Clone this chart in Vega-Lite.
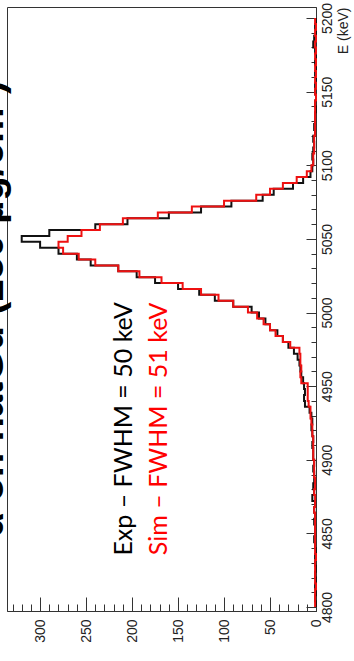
{
  "$schema": "https://vega.github.io/schema/vega-lite/v6.json",
  "width": 309,
  "height": 604,
  "autosize": {"type": "none"},
  "padding": {"left": 7, "top": 7, "right": 38, "bottom": 50},
  "background": "white",
  "title": {"text": "α on natGd (250 µg/cm²)", "orient": "left", "anchor": "middle", "font": "Liberation Sans", "fontSize": 40, "fontWeight": "bold", "color": "black", "offset": -4},
  "config": {
    "view": {"stroke": "#333333", "strokeWidth": 1},
    "axis": {"grid": false, "domainColor": "#333333", "tickColor": "#333333", "labelColor": "#222222", "labelFont": "Liberation Sans", "labelFontSize": 14, "titleFont": "Liberation Sans", "titleFontSize": 14, "titleFontWeight": "normal", "titleColor": "#222222"}
  },
  "resolve": {"axis": {"x": "independent", "y": "independent"}},
  "datasets": {
    "spectra": [
      {"series":"Exp","E":4800,"counts":0},{"series":"Exp","E":4804,"counts":1},{"series":"Exp","E":4808,"counts":0},{"series":"Exp","E":4812,"counts":1},{"series":"Exp","E":4816,"counts":0},{"series":"Exp","E":4820,"counts":1},{"series":"Exp","E":4824,"counts":0},{"series":"Exp","E":4828,"counts":1},{"series":"Exp","E":4832,"counts":1},{"series":"Exp","E":4836,"counts":0},
      {"series":"Exp","E":4840,"counts":1},{"series":"Exp","E":4844,"counts":2},{"series":"Exp","E":4848,"counts":1},{"series":"Exp","E":4852,"counts":1},{"series":"Exp","E":4856,"counts":2},{"series":"Exp","E":4860,"counts":1},{"series":"Exp","E":4864,"counts":2},{"series":"Exp","E":4868,"counts":1},{"series":"Exp","E":4872,"counts":4},{"series":"Exp","E":4876,"counts":2},
      {"series":"Exp","E":4880,"counts":3},{"series":"Exp","E":4884,"counts":2},{"series":"Exp","E":4888,"counts":2},{"series":"Exp","E":4892,"counts":3},{"series":"Exp","E":4896,"counts":2},{"series":"Exp","E":4900,"counts":3},{"series":"Exp","E":4904,"counts":3},{"series":"Exp","E":4908,"counts":4},{"series":"Exp","E":4912,"counts":3},{"series":"Exp","E":4916,"counts":4},
      {"series":"Exp","E":4920,"counts":5},{"series":"Exp","E":4924,"counts":4},{"series":"Exp","E":4928,"counts":5},{"series":"Exp","E":4932,"counts":7},{"series":"Exp","E":4936,"counts":12},{"series":"Exp","E":4940,"counts":13},{"series":"Exp","E":4944,"counts":12},{"series":"Exp","E":4948,"counts":13},{"series":"Exp","E":4952,"counts":14},{"series":"Exp","E":4956,"counts":16},
      {"series":"Exp","E":4960,"counts":17},{"series":"Exp","E":4964,"counts":18},{"series":"Exp","E":4968,"counts":20},{"series":"Exp","E":4972,"counts":24},{"series":"Exp","E":4976,"counts":30},{"series":"Exp","E":4980,"counts":36},{"series":"Exp","E":4984,"counts":42},{"series":"Exp","E":4988,"counts":50},{"series":"Exp","E":4992,"counts":55},{"series":"Exp","E":4996,"counts":62},
      {"series":"Exp","E":5000,"counts":70},{"series":"Exp","E":5004,"counts":90},{"series":"Exp","E":5008,"counts":110},{"series":"Exp","E":5012,"counts":127},{"series":"Exp","E":5016,"counts":150},{"series":"Exp","E":5020,"counts":175},{"series":"Exp","E":5024,"counts":195},{"series":"Exp","E":5028,"counts":215},{"series":"Exp","E":5032,"counts":245},{"series":"Exp","E":5036,"counts":260},
      {"series":"Exp","E":5040,"counts":280},{"series":"Exp","E":5044,"counts":300},{"series":"Exp","E":5048,"counts":320},{"series":"Exp","E":5052,"counts":290},{"series":"Exp","E":5056,"counts":240},{"series":"Exp","E":5060,"counts":205},{"series":"Exp","E":5064,"counts":160},{"series":"Exp","E":5068,"counts":125},{"series":"Exp","E":5072,"counts":92},{"series":"Exp","E":5076,"counts":58},
      {"series":"Exp","E":5080,"counts":46},{"series":"Exp","E":5084,"counts":25},{"series":"Exp","E":5088,"counts":14},{"series":"Exp","E":5092,"counts":6},{"series":"Exp","E":5096,"counts":4},{"series":"Exp","E":5100,"counts":3},{"series":"Exp","E":5104,"counts":4},{"series":"Exp","E":5108,"counts":3},{"series":"Exp","E":5112,"counts":2},{"series":"Exp","E":5116,"counts":3},
      {"series":"Exp","E":5120,"counts":1},{"series":"Exp","E":5124,"counts":2},{"series":"Exp","E":5128,"counts":1},{"series":"Exp","E":5132,"counts":1},{"series":"Exp","E":5136,"counts":0},{"series":"Exp","E":5140,"counts":1},{"series":"Exp","E":5144,"counts":0},{"series":"Exp","E":5148,"counts":1},{"series":"Exp","E":5152,"counts":1},{"series":"Exp","E":5156,"counts":0},
      {"series":"Exp","E":5160,"counts":1},{"series":"Exp","E":5164,"counts":0},{"series":"Exp","E":5168,"counts":1},{"series":"Exp","E":5172,"counts":0},{"series":"Exp","E":5176,"counts":1},{"series":"Exp","E":5180,"counts":3},{"series":"Exp","E":5184,"counts":2},{"series":"Exp","E":5188,"counts":0},{"series":"Exp","E":5192,"counts":1},{"series":"Exp","E":5196,"counts":0},
      {"series":"Exp","E":5200,"counts":0},
      {"series":"Sim","E":4800,"counts":1},{"series":"Sim","E":4804,"counts":1},{"series":"Sim","E":4808,"counts":1},{"series":"Sim","E":4812,"counts":0},{"series":"Sim","E":4816,"counts":1},{"series":"Sim","E":4820,"counts":1},{"series":"Sim","E":4824,"counts":1},{"series":"Sim","E":4828,"counts":1},{"series":"Sim","E":4832,"counts":0},{"series":"Sim","E":4836,"counts":1},
      {"series":"Sim","E":4840,"counts":1},{"series":"Sim","E":4844,"counts":1},{"series":"Sim","E":4848,"counts":1},{"series":"Sim","E":4852,"counts":1},{"series":"Sim","E":4856,"counts":1},{"series":"Sim","E":4860,"counts":1},{"series":"Sim","E":4864,"counts":2},{"series":"Sim","E":4868,"counts":1},{"series":"Sim","E":4872,"counts":1},{"series":"Sim","E":4876,"counts":2},
      {"series":"Sim","E":4880,"counts":1},{"series":"Sim","E":4884,"counts":1},{"series":"Sim","E":4888,"counts":2},{"series":"Sim","E":4892,"counts":2},{"series":"Sim","E":4896,"counts":2},{"series":"Sim","E":4900,"counts":3},{"series":"Sim","E":4904,"counts":3},{"series":"Sim","E":4908,"counts":3},{"series":"Sim","E":4912,"counts":3},{"series":"Sim","E":4916,"counts":4},
      {"series":"Sim","E":4920,"counts":4},{"series":"Sim","E":4924,"counts":5},{"series":"Sim","E":4928,"counts":6},{"series":"Sim","E":4932,"counts":6},{"series":"Sim","E":4936,"counts":8},{"series":"Sim","E":4940,"counts":9},{"series":"Sim","E":4944,"counts":9},{"series":"Sim","E":4948,"counts":9},{"series":"Sim","E":4952,"counts":16},{"series":"Sim","E":4956,"counts":17},
      {"series":"Sim","E":4960,"counts":16},{"series":"Sim","E":4964,"counts":17},{"series":"Sim","E":4968,"counts":17},{"series":"Sim","E":4972,"counts":18},{"series":"Sim","E":4976,"counts":28},{"series":"Sim","E":4980,"counts":36},{"series":"Sim","E":4984,"counts":44},{"series":"Sim","E":4988,"counts":50},{"series":"Sim","E":4992,"counts":57},{"series":"Sim","E":4996,"counts":64},
      {"series":"Sim","E":5000,"counts":74},{"series":"Sim","E":5004,"counts":90},{"series":"Sim","E":5008,"counts":106},{"series":"Sim","E":5012,"counts":125},{"series":"Sim","E":5016,"counts":145},{"series":"Sim","E":5020,"counts":168},{"series":"Sim","E":5024,"counts":192},{"series":"Sim","E":5028,"counts":215},{"series":"Sim","E":5032,"counts":240},{"series":"Sim","E":5036,"counts":258},
      {"series":"Sim","E":5040,"counts":275},{"series":"Sim","E":5044,"counts":280},{"series":"Sim","E":5048,"counts":270},{"series":"Sim","E":5052,"counts":255},{"series":"Sim","E":5056,"counts":235},{"series":"Sim","E":5060,"counts":210},{"series":"Sim","E":5064,"counts":172},{"series":"Sim","E":5068,"counts":135},{"series":"Sim","E":5072,"counts":100},{"series":"Sim","E":5076,"counts":65},
      {"series":"Sim","E":5080,"counts":50},{"series":"Sim","E":5084,"counts":36},{"series":"Sim","E":5088,"counts":21},{"series":"Sim","E":5092,"counts":10},{"series":"Sim","E":5096,"counts":5},{"series":"Sim","E":5100,"counts":3},{"series":"Sim","E":5104,"counts":3},{"series":"Sim","E":5108,"counts":2},{"series":"Sim","E":5112,"counts":2},{"series":"Sim","E":5116,"counts":2},
      {"series":"Sim","E":5120,"counts":1},{"series":"Sim","E":5124,"counts":1},{"series":"Sim","E":5128,"counts":1},{"series":"Sim","E":5132,"counts":1},{"series":"Sim","E":5136,"counts":1},{"series":"Sim","E":5140,"counts":1},{"series":"Sim","E":5144,"counts":0},{"series":"Sim","E":5148,"counts":1},{"series":"Sim","E":5152,"counts":0},{"series":"Sim","E":5156,"counts":1},
      {"series":"Sim","E":5160,"counts":0},{"series":"Sim","E":5164,"counts":1},{"series":"Sim","E":5168,"counts":0},{"series":"Sim","E":5172,"counts":1},{"series":"Sim","E":5176,"counts":0},{"series":"Sim","E":5180,"counts":1},{"series":"Sim","E":5184,"counts":0},{"series":"Sim","E":5188,"counts":1},{"series":"Sim","E":5192,"counts":0},{"series":"Sim","E":5196,"counts":1},
      {"series":"Sim","E":5200,"counts":1}
    ],
    "labels": [
      {"series": "Exp", "label": "Exp – FWHM = 50 keV"},
      {"series": "Sim", "label": "Sim – FWHM = 51 keV"}
    ]
  },
  "layer": [
    {
      "data": {"name": "spectra"},
      "mark": {"type": "line", "interpolate": "step-before", "strokeWidth": 1, "strokeOpacity": 0},
      "encoding": {
        "x": {
          "field": "counts", "type": "quantitative",
          "scale": {"domain": [0, 336], "reverse": true, "nice": false, "zero": false},
          "axis": {"orient": "bottom", "title": null, "labels": false, "domain": false, "tickSize": -7,
            "values": [10,20,30,40,60,70,80,90,110,120,130,140,160,170,180,190,210,220,230,240,260,270,280,290,310,320,330]}
        },
        "y": {
          "field": "E", "type": "quantitative",
          "scale": {"domain": [4797.3, 5207.5], "nice": false, "zero": false},
          "axis": {"orient": "right", "title": null, "labels": false, "domain": false, "tickSize": -5,
            "values": [4810,4820,4830,4840,4860,4870,4880,4890,4910,4920,4930,4940,4960,4970,4980,4990,5010,5020,5030,5040,5060,5070,5080,5090,5110,5120,5130,5140,5160,5170,5180,5190]}
        },
        "detail": {"field": "series"},
        "order": {"field": "E", "type": "quantitative"}
      }
    },
    {
      "data": {"name": "spectra"},
      "mark": {"type": "line", "interpolate": "step-before", "strokeWidth": 2},
      "encoding": {
        "x": {
          "field": "counts", "type": "quantitative",
          "axis": {
            "orient": "bottom", "title": null,
            "values": [0, 50, 100, 150, 200, 250, 300],
            "format": "d",
            "labelAngle": 270, "labelAlign": "right", "labelBaseline": "middle",
            "labelOverlap": false, "labelFlush": false,
            "tickSize": -14,
            "labelPadding": 22
          }
        },
        "y": {
          "field": "E", "type": "quantitative",
          "axis": {
            "orient": "right", "title": "E (keV)",
            "values": [4800, 4850, 4900, 4950, 5000, 5050, 5100, 5150, 5200],
            "format": "d",
            "labelAngle": 270, "labelAlign": "center", "labelBaseline": "top",
            "labelOverlap": false, "labelFlush": false,
            "tickSize": -10,
            "labelPadding": 14,
            "titleAngle": 270, "titleAnchor": "end", "titleBaseline": "top", "titlePadding": 2
          }
        },
        "color": {"field": "series", "type": "nominal", "scale": {"domain": ["Exp", "Sim"], "range": ["#111111", "#ee1111"]}, "legend": null},
        "order": {"field": "E", "type": "quantitative"}
      }
    },
    {
      "data": {"name": "labels"},
      "transform": [{"filter": "datum.series === 'Exp'"}],
      "mark": {"type": "text", "angle": 270, "font": "Lato", "fontSize": 25, "align": "center", "baseline": "middle", "color": "#000000"},
      "encoding": {"text": {"field": "label"}, "x": {"datum": 209, "type": "quantitative", "axis": null}, "y": {"datum": 4921, "type": "quantitative", "axis": null}}
    },
    {
      "data": {"name": "labels"},
      "transform": [{"filter": "datum.series === 'Sim'"}],
      "mark": {"type": "text", "angle": 270, "font": "Lato", "fontSize": 25, "align": "center", "baseline": "middle", "color": "#ff0000"},
      "encoding": {"text": {"field": "label"}, "x": {"datum": 171, "type": "quantitative", "axis": null}, "y": {"datum": 4921, "type": "quantitative", "axis": null}}
    }
  ]
}
